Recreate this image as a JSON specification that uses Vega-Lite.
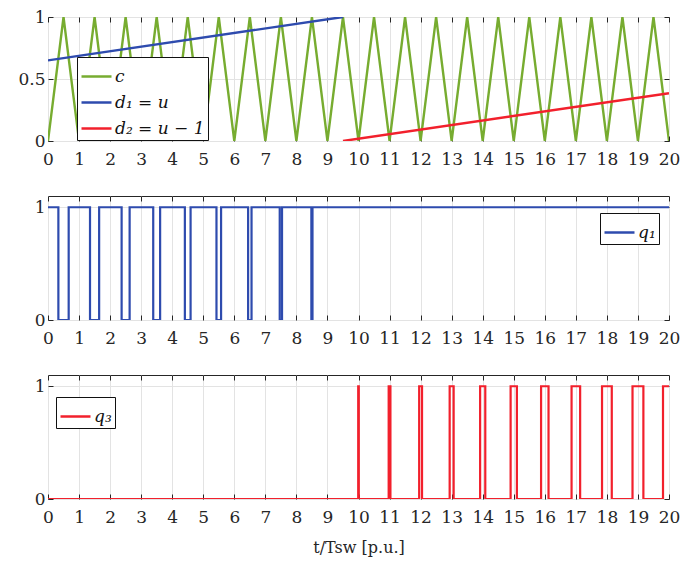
{
  "$schema": "https://vega.github.io/schema/vega-lite/v6.json",
  "padding": {"left": 17, "top": 7, "right": 5, "bottom": 5},
  "background": "white",
  "spacing": 55,
  "bounds": "flush",
  "datasets": {
    "top": [
      {"t": 0, "v": 0, "s": "c"}, {"t": 0.5, "v": 1, "s": "c"}, {"t": 1, "v": 0, "s": "c"}, {"t": 1.5, "v": 1, "s": "c"},
      {"t": 2, "v": 0, "s": "c"}, {"t": 2.5, "v": 1, "s": "c"}, {"t": 3, "v": 0, "s": "c"}, {"t": 3.5, "v": 1, "s": "c"},
      {"t": 4, "v": 0, "s": "c"}, {"t": 4.5, "v": 1, "s": "c"}, {"t": 5, "v": 0, "s": "c"}, {"t": 5.5, "v": 1, "s": "c"},
      {"t": 6, "v": 0, "s": "c"}, {"t": 6.5, "v": 1, "s": "c"}, {"t": 7, "v": 0, "s": "c"}, {"t": 7.5, "v": 1, "s": "c"},
      {"t": 8, "v": 0, "s": "c"}, {"t": 8.5, "v": 1, "s": "c"}, {"t": 9, "v": 0, "s": "c"}, {"t": 9.5, "v": 1, "s": "c"},
      {"t": 10, "v": 0, "s": "c"}, {"t": 10.5, "v": 1, "s": "c"}, {"t": 11, "v": 0, "s": "c"}, {"t": 11.5, "v": 1, "s": "c"},
      {"t": 12, "v": 0, "s": "c"}, {"t": 12.5, "v": 1, "s": "c"}, {"t": 13, "v": 0, "s": "c"}, {"t": 13.5, "v": 1, "s": "c"},
      {"t": 14, "v": 0, "s": "c"}, {"t": 14.5, "v": 1, "s": "c"}, {"t": 15, "v": 0, "s": "c"}, {"t": 15.5, "v": 1, "s": "c"},
      {"t": 16, "v": 0, "s": "c"}, {"t": 16.5, "v": 1, "s": "c"}, {"t": 17, "v": 0, "s": "c"}, {"t": 17.5, "v": 1, "s": "c"},
      {"t": 18, "v": 0, "s": "c"}, {"t": 18.5, "v": 1, "s": "c"}, {"t": 19, "v": 0, "s": "c"}, {"t": 19.5, "v": 1, "s": "c"},
      {"t": 20, "v": 0, "s": "c"},
      {"t": 0, "v": 0.65, "s": "d₁ = u"}, {"t": 9.5, "v": 1, "s": "d₁ = u"},
      {"t": 9.5, "v": 0, "s": "d₂ = u − 1"}, {"t": 20, "v": 0.385, "s": "d₂ = u − 1"}
    ],
    "q1": [
      {"t": 0, "v": 1, "s": "q₁"}, {"t": 0.334, "v": 0, "s": "q₁"}, {"t": 0.666, "v": 1, "s": "q₁"},
      {"t": 1.353, "v": 0, "s": "q₁"}, {"t": 1.647, "v": 1, "s": "q₁"},
      {"t": 2.371, "v": 0, "s": "q₁"}, {"t": 2.629, "v": 1, "s": "q₁"},
      {"t": 3.389, "v": 0, "s": "q₁"}, {"t": 3.611, "v": 1, "s": "q₁"},
      {"t": 4.408, "v": 0, "s": "q₁"}, {"t": 4.592, "v": 1, "s": "q₁"},
      {"t": 5.426, "v": 0, "s": "q₁"}, {"t": 5.574, "v": 1, "s": "q₁"},
      {"t": 6.445, "v": 0, "s": "q₁"}, {"t": 6.555, "v": 1, "s": "q₁"},
      {"t": 7.463, "v": 0, "s": "q₁"}, {"t": 7.537, "v": 1, "s": "q₁"},
      {"t": 8.482, "v": 0, "s": "q₁"}, {"t": 8.518, "v": 1, "s": "q₁"},
      {"t": 20, "v": 1, "s": "q₁"}
    ],
    "q3": [
      {"t": 0, "v": 0, "s": "q₃"}, {"t": 9.991, "v": 1, "s": "q₃"}, {"t": 10.009, "v": 0, "s": "q₃"},
      {"t": 10.972, "v": 1, "s": "q₃"}, {"t": 11.028, "v": 0, "s": "q₃"},
      {"t": 11.954, "v": 1, "s": "q₃"}, {"t": 12.046, "v": 0, "s": "q₃"},
      {"t": 12.936, "v": 1, "s": "q₃"}, {"t": 13.064, "v": 0, "s": "q₃"},
      {"t": 13.917, "v": 1, "s": "q₃"}, {"t": 14.083, "v": 0, "s": "q₃"},
      {"t": 14.899, "v": 1, "s": "q₃"}, {"t": 15.101, "v": 0, "s": "q₃"},
      {"t": 15.88, "v": 1, "s": "q₃"}, {"t": 16.12, "v": 0, "s": "q₃"},
      {"t": 16.862, "v": 1, "s": "q₃"}, {"t": 17.138, "v": 0, "s": "q₃"},
      {"t": 17.843, "v": 1, "s": "q₃"}, {"t": 18.157, "v": 0, "s": "q₃"},
      {"t": 18.825, "v": 1, "s": "q₃"}, {"t": 19.175, "v": 0, "s": "q₃"},
      {"t": 19.807, "v": 1, "s": "q₃"}, {"t": 20, "v": 1, "s": "q₃"}
    ]
  },
  "vconcat": [
    {
      "width": 621, "height": 124,
      "data": {"name": "top"},
      "layer": [
        {
          "mark": {"type": "line", "strokeWidth": 2.4, "clip": true},
          "encoding": {
            "x": {"field": "t", "type": "quantitative", "scale": {"domain": [0, 20], "nice": false},
                  "axis": {"title": null, "values": [0,1,2,3,4,5,6,7,8,9,10,11,12,13,14,15,16,17,18,19,20], "labelOverlap": false, "labelPadding": 15}},
            "y": {"field": "v", "type": "quantitative", "scale": {"domain": [0, 1], "nice": false},
                  "axis": {"title": null, "values": [0, 0.5, 1], "format": "~g"}},
            "color": {"field": "s", "type": "nominal",
                      "scale": {"domain": ["c", "d₁ = u", "d₂ = u − 1"], "range": ["#77AC30", "#2E4BAE", "#F2202C"]},
                      "legend": {"title": null, "orient": "none", "legendX": 29, "legendY": 40}}
          }
        },
        {
          "mark": {"type": "line", "opacity": 0},
          "encoding": {
            "x": {"field": "t", "type": "quantitative", "scale": {"domain": [0, 20], "nice": false},
                  "axis": {"orient": "top", "title": null, "labels": false, "grid": false, "values": [0,1,2,3,4,5,6,7,8,9,10,11,12,13,14,15,16,17,18,19,20]}},
            "y": {"field": "v", "type": "quantitative", "scale": {"domain": [0, 1], "nice": false},
                  "axis": {"orient": "right", "title": null, "labels": false, "grid": false, "values": [0, 0.5, 1]}}
          }
        }
      ],
      "resolve": {"axis": {"x": "independent", "y": "independent"}}
    },
    {
      "width": 621, "height": 124,
      "data": {"name": "q1"},
      "layer": [
        {
          "mark": {"type": "line", "strokeWidth": 2.2, "interpolate": "step-after", "clip": true},
          "encoding": {
            "x": {"field": "t", "type": "quantitative", "scale": {"domain": [0, 20], "nice": false},
                  "axis": {"title": null, "values": [0,1,2,3,4,5,6,7,8,9,10,11,12,13,14,15,16,17,18,19,20], "labelOverlap": false, "labelPadding": 15}},
            "y": {"field": "v", "type": "quantitative", "scale": {"domain": [0, 1.1], "nice": false},
                  "axis": {"title": null, "values": [0, 1], "format": "~g"}},
            "color": {"field": "s", "type": "nominal",
                      "scale": {"domain": ["q₁"], "range": ["#2E4BAE"]},
                      "legend": {"title": null, "orient": "none", "legendX": 552, "legendY": 17}}
          }
        },
        {
          "mark": {"type": "line", "opacity": 0},
          "encoding": {
            "x": {"field": "t", "type": "quantitative", "scale": {"domain": [0, 20], "nice": false},
                  "axis": {"orient": "top", "title": null, "labels": false, "grid": false, "values": [0,1,2,3,4,5,6,7,8,9,10,11,12,13,14,15,16,17,18,19,20]}},
            "y": {"field": "v", "type": "quantitative", "scale": {"domain": [0, 1.1], "nice": false},
                  "axis": {"orient": "right", "title": null, "labels": false, "grid": false, "values": [0, 1]}}
          }
        }
      ],
      "resolve": {"axis": {"x": "independent", "y": "independent"}}
    },
    {
      "width": 621, "height": 124,
      "data": {"name": "q3"},
      "layer": [
        {
          "mark": {"type": "line", "strokeWidth": 2.2, "interpolate": "step-after", "clip": true},
          "encoding": {
            "x": {"field": "t", "type": "quantitative", "scale": {"domain": [0, 20], "nice": false},
                  "axis": {"title": "t/Tsw  [p.u.]", "titlePadding": 14, "values": [0,1,2,3,4,5,6,7,8,9,10,11,12,13,14,15,16,17,18,19,20], "labelOverlap": false, "labelPadding": 15}},
            "y": {"field": "v", "type": "quantitative", "scale": {"domain": [0, 1.1], "nice": false},
                  "axis": {"title": null, "values": [0, 1], "format": "~g"}},
            "color": {"field": "s", "type": "nominal",
                      "scale": {"domain": ["q₃"], "range": ["#F2202C"]},
                      "legend": {"title": null, "orient": "none", "legendX": 8, "legendY": 22}}
          }
        },
        {
          "mark": {"type": "line", "opacity": 0},
          "encoding": {
            "x": {"field": "t", "type": "quantitative", "scale": {"domain": [0, 20], "nice": false},
                  "axis": {"orient": "top", "title": null, "labels": false, "grid": false, "values": [0,1,2,3,4,5,6,7,8,9,10,11,12,13,14,15,16,17,18,19,20]}},
            "y": {"field": "v", "type": "quantitative", "scale": {"domain": [0, 1.1], "nice": false},
                  "axis": {"orient": "right", "title": null, "labels": false, "grid": false, "values": [0, 1]}}
          }
        }
      ],
      "resolve": {"axis": {"x": "independent", "y": "independent"}}
    }
  ],
  "resolve": {"scale": {"color": "independent"}, "legend": {"color": "independent"}},
  "config": {
    "font": "DejaVu Serif",
    "view": {"stroke": "#262626", "strokeWidth": 1},
    "axis": {
      "labelFont": "DejaVu Serif", "labelFontSize": 17, "labelColor": "#262626", "labelFlush": false,
      "tickColor": "#262626", "tickSize": -5, "labelPadding": 8,
      "domain": false, "gridColor": "#e3e3e3", "gridWidth": 1,
      "titleFont": "DejaVu Serif", "titleFontSize": 16, "titleFontWeight": "normal", "titleColor": "#262626"
    },
    "legend": {
      "labelFont": "DejaVu Serif", "labelFontSize": 17, "labelFontStyle": "italic", "labelColor": "#111",
      "symbolType": "stroke", "symbolSize": 900, "symbolStrokeWidth": 2.5, "labelLimit": 200,
      "strokeColor": "#111", "fillColor": "white", "padding": 3, "rowPadding": 1, "labelOffset": 2
    }
  }
}
